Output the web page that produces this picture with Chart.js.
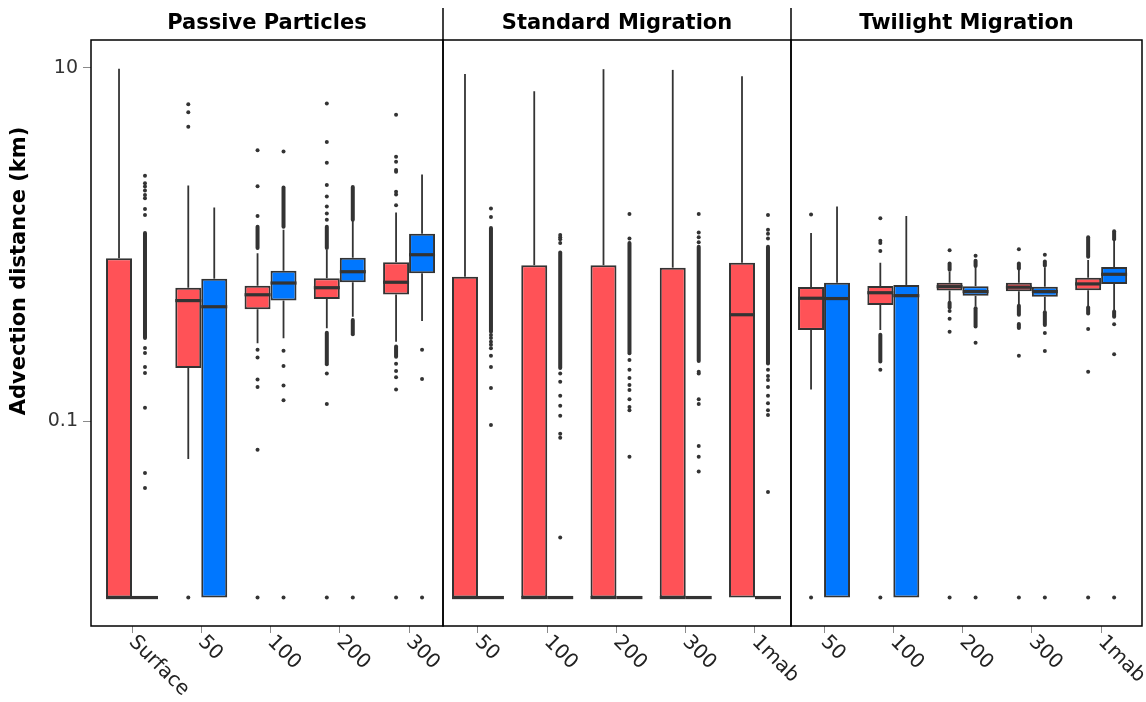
<!DOCTYPE html>
<html>
<head>
<meta charset="utf-8">
<script src="https://cdn.jsdelivr.net/npm/chart.js@4.4.1/dist/chart.umd.min.js"></script>
<style>
  body { margin: 0; background: #fff; width: 1146px; height: 702px; overflow: hidden; position: relative; }
  canvas { position: absolute; top: 0; }
</style>
</head>
<body>
<canvas id="c1" width="460" height="702" style="left:0px"></canvas>
<canvas id="c2" width="375" height="702" style="left:430px"></canvas>
<canvas id="c3" width="368" height="702" style="left:778px"></canvas>
<script>
// facets and categories
const panelTitles = ['Passive Particles', 'Standard Migration', 'Twilight Migration'];
const passiveLabels = ['Surface', '50', '100', '200', '300'];
const migrationLabels = ['50', '100', '200', '300', '1mab'];
// visible range of the category index in each facet
const panelRanges = [[-0.592, 4.49], [-0.505, 4.52], [-0.477, 4.59]];

const yTicks = [0.1, 10];
const yTickLabels = ['0.1', '10'];
const yTitle = 'Advection distance (km)';

// box stats per depth: [lower whisker, q1, median, q3, upper whisker]
const passiveRed = [
  [0.01, 0.01, 0.01, 0.835, 9.9],
  [0.061, 0.200, 0.481, 0.569, 2.16],
  [0.276, 0.430, 0.519, 0.584, 0.892],
  [0.335, 0.491, 0.569, 0.643, 0.931],
  [0.281, 0.520, 0.611, 0.793, 1.52]
];
const passiveBlue = [
  [0.01, 0.01, 0.01, 0.01, 0.01],
  [0.01, 0.01, 0.444, 0.640, 1.62],
  [0.294, 0.481, 0.605, 0.711, 1.21],
  [0.390, 0.611, 0.701, 0.842, 1.36],
  [0.369, 0.687, 0.875, 1.15, 2.49]
];
const standardRed = [
  [0.01, 0.01, 0.01, 0.657, 9.25],
  [0.01, 0.01, 0.01, 0.763, 7.38],
  [0.01, 0.01, 0.01, 0.763, 9.84],
  [0.01, 0.01, 0.01, 0.739, 9.75],
  [0.01, 0.01, 0.400, 0.789, 8.97]
];
const standardBlue = [
  [0.01, 0.01, 0.01, 0.01, 0.01],
  [0.01, 0.01, 0.01, 0.01, 0.01],
  [0.01, 0.01, 0.01, 0.01, 0.01],
  [0.01, 0.01, 0.01, 0.01, 0.01],
  [0.01, 0.01, 0.01, 0.01, 0.01]
];
const twilightRed = [
  [0.151, 0.328, 0.496, 0.574, 1.16],
  [0.328, 0.454, 0.533, 0.582, 0.789],
  [0.474, 0.548, 0.577, 0.608, 0.701],
  [0.456, 0.544, 0.573, 0.608, 0.717],
  [0.445, 0.550, 0.598, 0.648, 0.817]
];
const twilightBlue = [
  [0.01, 0.01, 0.494, 0.608, 1.64],
  [0.01, 0.01, 0.513, 0.590, 1.45],
  [0.445, 0.513, 0.541, 0.580, 0.743],
  [0.422, 0.506, 0.541, 0.577, 0.743],
  [0.425, 0.598, 0.678, 0.746, 1.06]
];

// single outliers per depth
const passiveRedOut = [
  [],
  [6.22, 5.61, 4.65, 0.01],
  [3.42, 2.14, 1.45, 0.253, 0.229, 0.172, 0.156, 0.0688, 0.01],
  [6.29, 3.81, 2.90, 2.17, 1.87, 1.64, 1.50, 1.38, 0.186, 0.125, 0.01],
  [5.44, 3.14, 2.94, 2.64, 2.58, 1.99, 1.92, 1.67, 0.211, 0.192, 0.177, 0.151, 0.01]
];
const passiveBlueOut = [
  [2.45, 2.22, 2.13, 2.02, 1.91, 1.83, 1.59, 1.47, 0.259, 0.243, 0.202, 0.187, 0.119, 0.0507, 0.0417],
  [],
  [3.36, 0.250, 0.205, 0.159, 0.131, 0.01],
  [0.01],
  [0.253, 0.173, 0.01]
];
const standardRedOut = [[], [], [], [], []];
const standardBlueOut = [
  [1.60, 1.43, 0.307, 0.295, 0.281, 0.270, 0.258, 0.234, 0.202, 0.154, 0.0948],
  [1.13, 1.10, 1.07, 1.02, 0.186, 0.167, 0.139, 0.122, 0.107, 0.0847, 0.0803, 0.0219],
  [1.49, 1.08, 0.222, 0.195, 0.175, 0.160, 0.150, 0.133, 0.120, 0.115, 0.0628],
  [1.49, 1.17, 1.10, 1.03, 0.190, 0.186, 0.133, 0.125, 0.0722, 0.0628, 0.0518],
  [1.47, 1.21, 1.15, 1.08, 0.195, 0.180, 0.171, 0.156, 0.139, 0.126, 0.115, 0.108, 0.0396]
];
const twilightRedOut = [
  [1.48, 0.01],
  [1.41, 1.05, 1.02, 0.919, 0.195, 0.01],
  [0.927, 0.42, 0.38, 0.32, 0.01],
  [0.939, 0.234, 0.01],
  [0.332, 0.190, 0.01]
];
const twilightBlueOut = [
  [],
  [],
  [0.864, 0.278, 0.01],
  [0.876, 0.315, 0.249, 0.01],
  [0.353, 0.239, 0.01]
];

// stretches where outliers overlap into a solid column: [top, bottom]
const passiveRedRuns = [[], [], [[1.26, 0.955]], [[1.26, 0.955], [0.316, 0.21]], [[0.264, 0.231]]];
const passiveBlueRuns = [[[1.16, 0.295]], [], [[2.10, 1.26]], [[2.12, 1.38], [0.373, 0.31]], []];
const standardRedRuns = [[], [], [], [], []];
const standardBlueRuns = [[[1.24, 0.32]], [[0.90, 0.20]], [[1.02, 0.242]], [[0.97, 0.219]], [[0.97, 0.212]]];
const twilightRedRuns = [[], [[0.308, 0.217]], [[0.78, 0.72], [0.468, 0.44]], [[0.78, 0.73], [0.45, 0.40], [0.354, 0.336]], [[1.10, 0.853], [0.44, 0.407]]];
const twilightBlueRuns = [[], [], [[0.81, 0.755], [0.435, 0.343]], [[0.80, 0.76], [0.413, 0.35]], [[1.19, 1.07], [0.417, 0.39]]];

const RED = '#FF5257';
const BLUE = '#0077FF';
const INK = '#333333';
const FONT = "'DejaVu Sans', sans-serif";

function boxPlugin(idx, labels, stats, outs, runs) {
  return {
    id: 'boxParts' + idx,
    beforeDatasetsDraw(chart) {
      const ctx = chart.ctx, y = chart.scales.y;
      ctx.save();
      ctx.strokeStyle = INK;
      ctx.lineWidth = 1.8;
      stats.forEach((series, d) => {
        const meta = chart.getDatasetMeta(d);
        series.forEach((s, i) => {
          const x = meta.data[i].x;
          ctx.beginPath();
          if (s[4] > s[3]) { ctx.moveTo(x, y.getPixelForValue(s[3])); ctx.lineTo(x, y.getPixelForValue(s[4])); }
          if (s[0] < s[1]) { ctx.moveTo(x, y.getPixelForValue(s[1])); ctx.lineTo(x, y.getPixelForValue(s[0])); }
          ctx.stroke();
        });
      });
      ctx.restore();
    },
    afterDatasetsDraw(chart) {
      const ctx = chart.ctx, y = chart.scales.y;
      ctx.save();
      ctx.strokeStyle = INK;
      ctx.fillStyle = INK;
      stats.forEach((series, d) => {
        const meta = chart.getDatasetMeta(d);
        series.forEach((s, i) => {
          const bar = meta.data[i];
          const half = bar.width / 2;
          const ym = y.getPixelForValue(s[2]);
          // median
          ctx.lineWidth = 3.2;
          ctx.lineCap = 'butt';
          ctx.beginPath();
          ctx.moveTo(bar.x - half, ym);
          ctx.lineTo(bar.x + half, ym);
          ctx.stroke();
          // outlier columns
          ctx.lineWidth = 4;
          ctx.lineCap = 'round';
          runs[d][i].forEach(r => {
            ctx.beginPath();
            ctx.moveTo(bar.x, y.getPixelForValue(r[0]));
            ctx.lineTo(bar.x, y.getPixelForValue(r[1]));
            ctx.stroke();
          });
          outs[d][i].forEach(v => {
            ctx.beginPath();
            ctx.arc(bar.x, y.getPixelForValue(v), 2, 0, Math.PI * 2);
            ctx.fill();
          });
        });
      });
      ctx.restore();
    },
    afterDraw(chart) {
      const ctx = chart.ctx, a = chart.chartArea, xs = chart.scales.x;
      ctx.save();
      // panel frame
      ctx.strokeStyle = '#000';
      ctx.lineWidth = 1.5;
      ctx.strokeRect(a.left, a.top, a.right - a.left, a.bottom - a.top);
      if (idx > 0) {
        ctx.beginPath();
        ctx.moveTo(a.left, 8);
        ctx.lineTo(a.left, a.top);
        ctx.stroke();
      }
      // rotated category labels
      ctx.fillStyle = '#222';
      ctx.font = '20px ' + FONT;
      ctx.textAlign = 'left';
      ctx.textBaseline = 'middle';
      labels.forEach((lab, i) => {
        const x = xs.getPixelForValue(i);
        ctx.save();
        ctx.translate(x, a.bottom + 13);
        ctx.rotate(Math.PI / 4);
        ctx.fillText(lab, 0, 0);
        ctx.restore();
      });
      // y axis title
      if (idx === 0) {
        ctx.fillStyle = '#000';
        ctx.font = 'bold 21px ' + FONT;
        ctx.textAlign = 'center';
        ctx.translate(20, 271);
        ctx.rotate(-Math.PI / 2);
        ctx.fillText(yTitle, 0, 0);
      }
      ctx.restore();
    }
  };
}

function makePanel(canvasId, idx, labels, stats, outs, runs, padding) {
  const mkSet = (series, color) => ({
    data: series.map((s, i) => ({ x: i, y: [s[1], s[3]] })),
    backgroundColor: color,
    borderColor: INK,
    borderWidth: 2,
    borderSkipped: false,
    categoryPercentage: 0.75,
    barPercentage: 1
  });
  const yAxis = {
    type: 'logarithmic',
    display: idx === 0,
    min: 0.0069,
    max: 14.4,
    border: { display: false },
    grid: { drawOnChartArea: false, drawTicks: true, tickLength: 8, color: '#8a8a8a' },
    ticks: {
      color: INK,
      padding: 5,
      font: { family: FONT, size: 19 },
      callback: v => yTickLabels[yTicks.indexOf(v)]
    },
    afterBuildTicks: s => { s.ticks = yTicks.map(v => ({ value: v })); }
  };
  if (idx === 0) yAxis.afterFit = s => { s.width = 91; };
  return new Chart(document.getElementById(canvasId), {
    type: 'bar',
    data: {
      datasets: [mkSet(stats[0], RED), mkSet(stats[1], BLUE)]
    },
    options: {
      responsive: false,
      animation: false,
      events: [],
      layout: { padding: padding },
      plugins: {
        legend: { display: false },
        tooltip: { enabled: false },
        title: {
          display: true,
          text: panelTitles[idx],
          fullSize: false,
          color: '#000',
          font: { family: FONT, size: 21, weight: 'bold', lineHeight: 1.2 },
          padding: { top: 11, bottom: 3.8 }
        }
      },
      scales: {
        x: {
          type: 'linear',
          offset: false,
          min: panelRanges[idx][0],
          max: panelRanges[idx][1],
          border: { display: false },
          grid: { offset: false, drawOnChartArea: false, drawTicks: true, tickLength: 7, color: '#8a8a8a' },
          ticks: { display: false },
          afterBuildTicks: s => { s.ticks = labels.map((l, i) => ({ value: i })); },
          afterFit: s => { s.height = 76; }
        },
        y: yAxis
      }
    },
    plugins: [boxPlugin(idx, labels, stats, outs, runs)]
  });
}

makePanel('c1', 0, passiveLabels, [passiveRed, passiveBlue], [passiveRedOut, passiveBlueOut],
  [passiveRedRuns, passiveBlueRuns], { left: 0, right: 17, top: 0, bottom: 0 });
makePanel('c2', 1, migrationLabels, [standardRed, standardBlue], [standardRedOut, standardBlueOut],
  [standardRedRuns, standardBlueRuns], { left: 13, right: 14, top: 0, bottom: 0 });
makePanel('c3', 2, migrationLabels, [twilightRed, twilightBlue], [twilightRedOut, twilightBlueOut],
  [twilightRedRuns, twilightBlueRuns], { left: 13, right: 4, top: 0, bottom: 0 });
</script>
</body>
</html>
